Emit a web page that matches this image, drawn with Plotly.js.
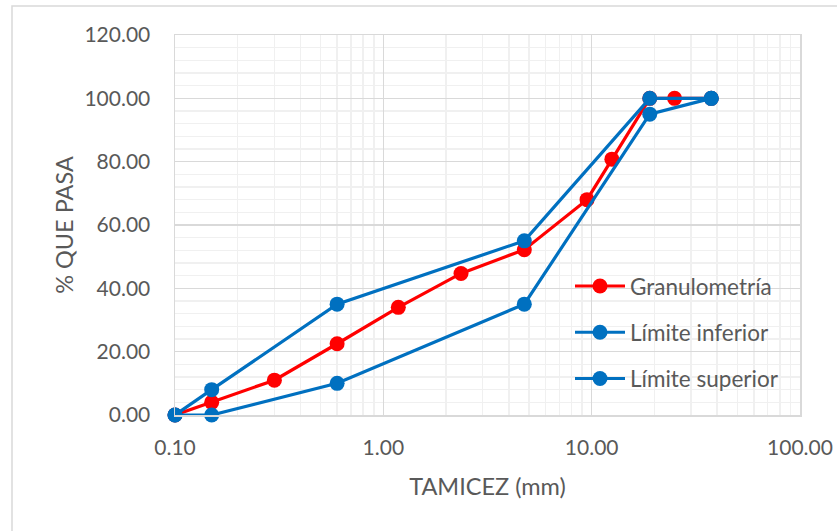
<!DOCTYPE html>
<html>
<head>
<meta charset="utf-8">
<script src="https://cdn.plot.ly/plotly-3.0.1.min.js"></script>
<style>
html,body{margin:0;padding:0;background:#fff;}
#chart{width:837px;height:531px;}
</style>
</head>
<body>
<div id="chart"></div>
<script>
// Data
const granX = [0.1, 0.15, 0.3, 0.6, 1.18, 2.36, 4.75, 9.5, 12.5, 19, 25, 37.5];
const granY = [0, 4, 11, 22.5, 34, 44.7, 52.2, 68, 80.8, 100, 100, 100];
const infX = [0.1, 0.15, 0.6, 4.75, 19, 37.5];
const infY = [0, 0, 10, 35, 95, 100];
const supX = [0.1, 0.15, 0.6, 4.75, 19, 37.5];
const supY = [0, 8, 35, 55, 100, 100];
const seriesNames = ["Granulometría", "Límite inferior", "Límite superior"];
const xTicks = [0.1, 1, 10, 100];
const xTickText = ["0.10", "1.00", "10.00", "100.00"];
const yTicks = [0, 20, 40, 60, 80, 100, 120];

const FONT = "Lato, 'Open Sans', sans-serif";
const TXT = "#595959";

function tr(x, y, name, color, g) {
  return {
    x: x, y: y, name: name, type: "scatter", mode: "lines+markers",
    legendgroup: g, cliponaxis: false,
    line: {color: color, width: 3.2},
    marker: {color: color, size: 15}
  };
}
const data = [
  tr(granX, granY, seriesNames[0], "#ff0000", "a"),
  tr(infX, infY, seriesNames[1], "#0070c0", "b"),
  tr(supX, supY, seriesNames[2], "#0070c0", "c")
];

const layout = {
  width: 837, height: 531,
  margin: {l: 175, r: 37, t: 35, b: 116},
  paper_bgcolor: "#ffffff", plot_bgcolor: "#ffffff",
  font: {family: FONT, color: TXT, size: 21},
  showlegend: true,
  legend: {
    x: 0.632, y: 0.395, xanchor: "left", yanchor: "top",
    bgcolor: "rgba(0,0,0,0)", font: {family: FONT, size: 22.5, color: TXT},
    traceorder: "grouped", tracegroupgap: 14, itemwidth: 50
  },
  xaxis: {
    type: "log", range: [-1, 2],
    tickvals: xTicks, ticktext: xTickText,
    showgrid: true, gridcolor: "#d9d9d9", gridwidth: 1.5,
    minor: {showgrid: true, gridcolor: "#f0f0f0", gridwidth: 1.5, dtick: "D1"},
    zeroline: false, showline: true, linecolor: "#d9d9d9", linewidth: 1.5, mirror: true,
    ticks: "", ticklabelstandoff: 13,
    tickfont: {family: FONT, size: 21, color: TXT},
    title: {text: "TAMICEZ (mm)", font: {family: FONT, size: 23.5, color: TXT}, standoff: 21}
  },
  yaxis: {
    range: [0, 120], tickvals: yTicks,
    tickformat: ".2f",
    showgrid: true, gridcolor: "#d9d9d9", gridwidth: 1.5,
    minor: {showgrid: true, gridcolor: "#f0f0f0", gridwidth: 1.5, dtick: 4},
    zeroline: false, showline: true, linecolor: "#d9d9d9", linewidth: 1.5, mirror: true,
    ticks: "", ticklabelstandoff: 19,
    tickfont: {family: FONT, size: 21, color: TXT},
    title: {text: "% QUE PASA", font: {family: FONT, size: 23.5, color: TXT}, standoff: 4}
  },
  shapes: [{
    type: "rect", xref: "paper", yref: "paper",
    x0: (12 - 175) / 625, x1: (900 - 175) / 625,
    y0: (415 - 600) / 380, y1: (415 - 6) / 380,
    line: {color: "#d9d9d9", width: 1.5}, fillcolor: "rgba(0,0,0,0)", layer: "below"
  }]
};

Plotly.newPlot("chart", data, layout, {displayModeBar: false, staticPlot: true});
</script>
</body>
</html>
